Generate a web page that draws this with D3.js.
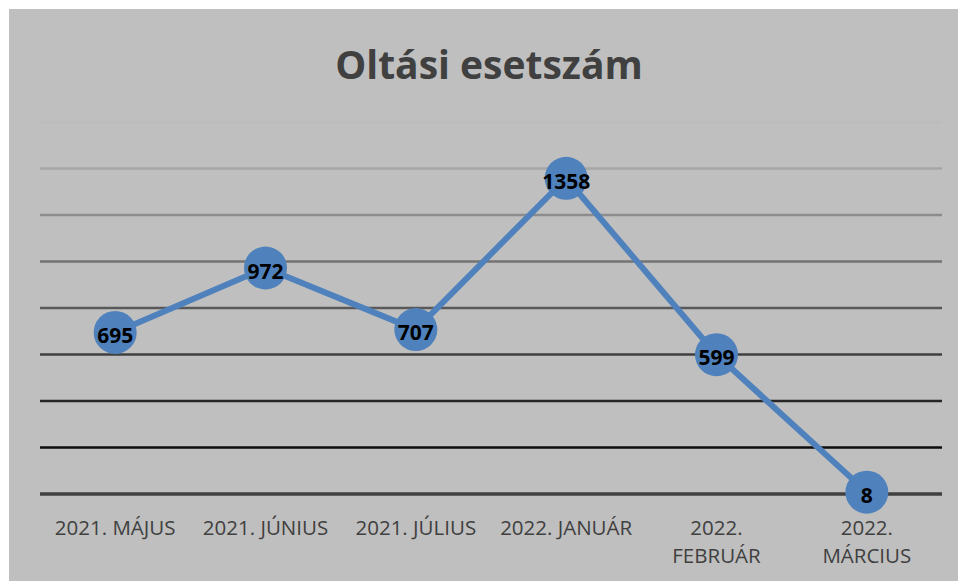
<!DOCTYPE html>
<html>
<head>
<meta charset="utf-8">
<script src="https://cdn.jsdelivr.net/npm/d3@7"></script>
<style>
  body { margin: 0; background: #fff; }
  svg { display: block; }
</style>
</head>
<body>
<div id="chart"></div>
<script>
const months = ["2021. MÁJUS", "2021. JÚNIUS", "2021. JÚLIUS", "2022. JANUÁR", "2022. FEBRUÁR", "2022. MÁRCIUS"];
// wrapped label lines as shown under the axis
const monthLines = [["2021. MÁJUS"], ["2021. JÚNIUS"], ["2021. JÚLIUS"], ["2022. JANUÁR"], ["2022.", "FEBRUÁR"], ["2022.", "MÁRCIUS"]];
const cases = [695, 972, 707, 1358, 599, 8];
const gridTicks = [0, 200, 400, 600, 800, 1000, 1200, 1400, 1600];
const gridColors = ["#404040", "#0d0d0d", "#262626", "#404040", "#595959", "#737373", "#8c8c8c", "#a6a6a6", "#bcbcbc"];

const width = 958, height = 581;
const margin = { top: 122, right: 16, bottom: 87, left: 40 };

const svg = d3.select("#chart")
  .append("svg")
  .attr("width", width)
  .attr("height", height);

svg.append("rect")
  .attr("x", 9)
  .attr("y", 9)
  .attr("width", width - 9)
  .attr("height", height - 9)
  .attr("fill", "#bfbfbf");

const x = d3.scaleBand()
  .domain(months)
  .range([margin.left, width - margin.right]);

const y = d3.scaleLinear()
  .domain([0, 1600])
  .range([height - margin.bottom, margin.top]);

// gridlines, darker towards the bottom
svg.append("g")
  .selectAll("line")
  .data(gridTicks)
  .join("line")
  .attr("x1", margin.left)
  .attr("x2", width - margin.right)
  .attr("y1", d => y(d))
  .attr("y2", d => y(d))
  .attr("stroke", (d, i) => gridColors[i])
  .attr("stroke-width", d => d === 0 ? 3.5 : 2.5);

svg.append("text")
  .attr("x", 489)
  .attr("y", 79)
  .attr("text-anchor", "middle")
  .attr("font-family", "Open Sans, sans-serif")
  .attr("font-weight", "bold")
  .attr("font-size", 39)
  .attr("fill", "#404040")
  .text("Oltási esetszám");

// category labels
const labels = svg.append("g")
  .selectAll("text")
  .data(months)
  .join("text")
  .attr("text-anchor", "middle")
  .attr("font-family", "Open Sans, sans-serif")
  .attr("font-size", 20.5)
  .attr("fill", "#404040")
  .attr("x", d => x(d) + x.bandwidth() / 2)
  .attr("y", 535);

labels.selectAll("tspan")
  .data((d, i) => monthLines[i])
  .join("tspan")
  .attr("x", function () { return d3.select(this.parentNode).attr("x"); })
  .attr("dy", (d, i) => i === 0 ? 0 : 28)
  .text(d => d);

const line = d3.line()
  .x((d, i) => x(months[i]) + x.bandwidth() / 2)
  .y(d => y(d));

svg.append("path")
  .datum(cases)
  .attr("d", line)
  .attr("fill", "none")
  .attr("stroke", "#4f81bd")
  .attr("stroke-width", 6)
  .attr("stroke-linejoin", "round");

svg.append("g")
  .selectAll("circle")
  .data(cases)
  .join("circle")
  .attr("cx", (d, i) => x(months[i]) + x.bandwidth() / 2)
  .attr("cy", d => y(d))
  .attr("r", 21.5)
  .attr("fill", "#4f81bd");

svg.append("g")
  .selectAll("text")
  .data(cases)
  .join("text")
  .attr("x", (d, i) => x(months[i]) + x.bandwidth() / 2)
  .attr("y", d => y(d) + 10.5)
  .attr("text-anchor", "middle")
  .attr("font-family", "Open Sans, sans-serif")
  .attr("font-weight", "bold")
  .attr("font-size", 21)
  .attr("fill", "#000")
  .text(d => d);
</script>
</body>
</html>
